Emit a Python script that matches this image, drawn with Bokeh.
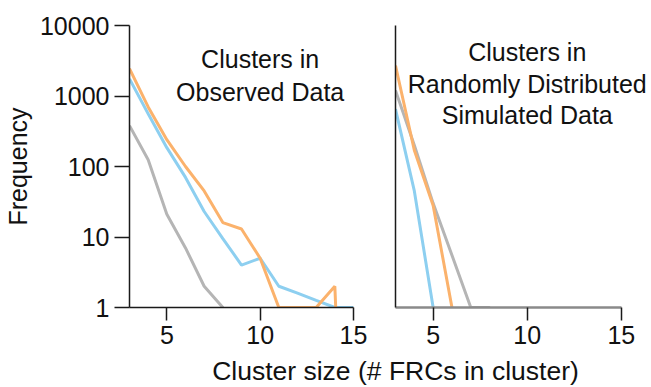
import numpy as np
from bokeh.plotting import figure
from bokeh.models import Range1d, FixedTicker, PrintfTickFormatter, Label
from bokeh.layouts import row, column
from bokeh.embed import file_html
from bokeh.resources import INLINE

# ---------------- data ----------------
cluster_size = [3, 4, 5, 6, 7, 8, 9, 10, 11, 12, 13, 14, 15]

observed_orange = [2450, 700, 240, 100, 45, 16, 13, 5, 1, 1, 1, 2, 0]
observed_blue = [1750, 560, 185, 70, 23, 9.5, 4, 5, 2, 1.6, 1.26, 1, 1]
observed_gray = [380, 125, 21, 7, 2, 1, 0, 0, 0, 0, 0, 0, 0]

simulated_orange = [2700, 170, 28, 1, 0, 0, 0, 0, 0, 0, 0, 0, 0]
simulated_blue = [650, 45, 1, 0, 0, 0, 0, 0, 0, 0, 0, 0, 0]
simulated_gray = [1200, 200, 30, 5.5, 1, 1, 0, 0, 0, 0, 0, 0, 0]

x_ticks = [5, 10, 15]
y_ticks = [1, 10, 100, 1000, 10000]

panel_titles_left = ["Clusters in", "Observed Data"]
panel_titles_right = ["Clusters in", "Randomly Distributed", "Simulated Data"]
x_label = "Cluster size (# FRCs in cluster)"
y_label = "Frequency"

# ---------------- style ----------------
ORANGE = "#FBB26C"
BLUE = "#8DCFF0"
GRAY = "#B5B5B5"
FONT = "Liberation Sans"
FS = "25px"
AXIS = "#1a1a1a"
FLOOR = 1e-6  # zero counts drop off the log axis


def clean(v):
    return [x if x > 0 else FLOOR for x in v]


def make_panel(width, left, right, x_end, ylabels=True):
    p = figure(width=width, height=352, y_axis_type="log",
               x_range=Range1d(3, x_end), y_range=Range1d(1, 10000),
               toolbar_location=None, output_backend="svg",
               min_border_left=left, min_border_right=right,
               min_border_top=25, min_border_bottom=45)
    p.grid.visible = False
    p.outline_line_color = None
    p.background_fill_color = "white"
    p.border_fill_color = "white"
    xa = p.xaxis[0]
    xa.ticker = FixedTicker(ticks=x_ticks)
    xa.bounds = (3, 15)
    xa.minor_tick_line_color = None
    xa.major_tick_in = 0
    xa.major_tick_out = 13
    xa.major_label_standoff = 5
    xa.major_label_text_font = FONT
    xa.major_label_text_font_size = FS
    xa.major_label_text_color = "#111111"
    xa.axis_line_width = 1.5
    xa.major_tick_line_width = 1.5
    xa.axis_line_color = AXIS
    xa.major_tick_line_color = AXIS
    ya = p.yaxis[0]
    ya.axis_line_width = 1.5
    ya.axis_line_color = AXIS
    ya.minor_tick_line_color = None
    if ylabels:
        ya.ticker = FixedTicker(ticks=y_ticks)
        ya.formatter = PrintfTickFormatter(format="%d")
        ya.major_tick_in = 0
        ya.major_tick_out = 15
        ya.major_tick_line_width = 1.5
        ya.major_tick_line_color = AXIS
        ya.major_label_standoff = 5
        ya.major_label_text_font = FONT
        ya.major_label_text_font_size = FS
        ya.major_label_text_color = "#111111"
    else:
        ya.ticker = FixedTicker(ticks=[])
        ya.major_tick_line_color = None
        ya.major_label_text_font_size = "0px"
    return p


p1 = make_panel(372, 128, 19, 15, ylabels=True)
p1.yaxis[0].axis_label = y_label
p1.yaxis[0].axis_label_text_font = FONT
p1.yaxis[0].axis_label_text_font_size = FS
p1.yaxis[0].axis_label_text_font_style = "normal"
p1.yaxis[0].axis_label_text_color = "#111111"
p1.yaxis[0].axis_label_standoff = 5

for vals, col in [(observed_gray, GRAY), (observed_blue, BLUE), (observed_orange, ORANGE)]:
    p1.line(cluster_size, clean(vals), line_color=col, line_width=3)

# right panel: frame extends to the canvas edge so the long title is not clipped;
# the axis itself is bounded to 3..15
p2 = make_panel(279, 23, 0, 16.6, ylabels=False)
p2.xaxis[0].axis_line_color = "#8a8a8a"
p2.xaxis[0].axis_line_width = 2.5
for vals, col in [(simulated_gray, GRAY), (simulated_blue, BLUE), (simulated_orange, ORANGE)]:
    p2.line(cluster_size, clean(vals), line_color=col, line_width=3)

for txt, yv in zip(panel_titles_left, [3300, 1150]):
    p1.add_layout(Label(x=10, y=yv, text=txt, text_align="center", text_baseline="alphabetic",
                        text_font=FONT, text_font_size=FS, text_color="#111111"))
for txt, yv in zip(panel_titles_right, [4200, 1480, 530]):
    p2.add_layout(Label(x=10, y=yv, text=txt, text_align="center", text_baseline="alphabetic",
                        text_font=FONT, text_font_size=FS, text_color="#111111"))

p3 = figure(width=651, height=35, x_range=Range1d(0, 651), y_range=Range1d(0, 35),
            x_axis_type=None, y_axis_type=None, toolbar_location=None, output_backend="svg",
            min_border_left=0, min_border_right=0, min_border_top=0, min_border_bottom=0)
p3.grid.visible = False
p3.outline_line_color = None
p3.add_layout(Label(x=395, y=17, text=x_label, text_align="center", text_baseline="alphabetic",
                    text_font=FONT, text_font_size="26.5px", text_color="#111111"))

layout = column(row(p1, p2, spacing=0), p3, spacing=0)

with open("out.html", "w") as f:
    f.write(file_html(layout, INLINE))
